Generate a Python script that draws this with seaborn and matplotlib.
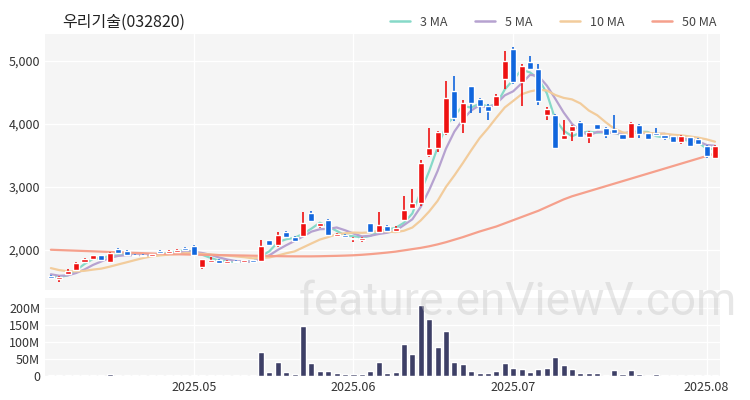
import numpy as np
import pandas as pd
import matplotlib
matplotlib.use("Agg")
import matplotlib.pyplot as plt
import seaborn as sns

sns.set_style("white")
plt.rcParams['font.family'] = ['Noto Sans CJK KR', 'DejaVu Sans']

title = "우리기술(032820)"
opens = [1580,1530,1620,1680,1810,1860,1910,1810,2010,1980,1920,1920,1900,1980,1945,1965,2030,2060,1720,1810,
         1840,1790,1820,1800,1830,1820,2150,2070,2290,2210,2220,2580,2370,2480,2220,2240,2170,2160,2420,2280,
         2380,2300,2478,2664,2740,3500,3620,3860,4525,4020,4600,4390,4290,4287,4712,5190,4660,4978,4880,4150,
         4150,3760,3880,4030,3800,3994,3940,3914,3834,3781,3978,3850,3861,3818,3808,3712,3797,3765,3648,3462]
closes = [1550,1560,1670,1790,1860,1910,1840,1950,1950,1920,1900,1900,1925,1950,1980,2000,1990,1920,1850,1840,
          1790,1820,1800,1830,1800,2060,2070,2230,2200,2140,2420,2450,2420,2230,2250,2200,2190,2190,2280,2390,
          2300,2350,2638,2744,3380,3622,3870,4420,4100,4340,4340,4290,4200,4446,5000,4660,4925,4872,4360,4230,
          3620,3830,3960,3800,3870,3914,3818,3861,3765,4020,3845,3755,3818,3781,3712,3808,3648,3675,3488,3648]
highs = [1600,1580,1690,1810,1870,1920,1920,1960,2020,1990,1930,1930,1935,1990,1990,2010,2040,2070,1860,1880,
         1850,1830,1830,1840,1840,2160,2160,2290,2300,2220,2600,2620,2430,2490,2270,2250,2200,2200,2430,2600,
         2400,2380,2850,2960,3420,3940,3890,4686,4766,4380,4610,4420,4310,4470,5165,5230,4950,5080,4960,4270,
         4160,4070,3980,4050,3880,4000,3950,4150,3840,4030,4000,3860,3940,3830,3815,3830,3800,3770,3660,3660]
lows = [1530,1480,1600,1660,1800,1850,1830,1800,1940,1910,1890,1890,1895,1940,1940,1960,1980,1910,1700,1800,
        1780,1780,1790,1790,1790,1810,2060,2050,2190,2130,2210,2440,2350,2220,2200,2180,2120,2130,2270,2270,
        2290,2290,2460,2640,2700,3480,3560,3820,4050,3860,4180,4180,4070,4270,4550,4640,4290,4850,4300,4070,
        3600,3750,3730,3780,3700,3900,3770,3850,3750,3770,3780,3740,3810,3740,3700,3680,3640,3660,3460,3435]
volume_m = [3,3,3,3,3,3,4,5,3,3,2,2,3,3,3,4,4,3,3,3,3,2,2,2,2,
            70,13,42,12,7,147,37,16,16,8,6,6,6,16,40,10,12,95,65,210,167,85,133,42,35,
            16,10,10,16,37,24,20,12,21,23,57,33,22,10,10,8,3,17,7,17,6,3,5,3,3,4,3,3,3,2]
prev_closes = [1900,1880,1850,1800,1780,1720,1680,1640,1600,1580]
ma50 = [2000,1995,1990,1985,1980,1975,1970,1965,1960,1955,
        1950,1945,1940,1935,1930,1928,1925,1922,1920,1918,
        1915,1912,1910,1908,1905,1903,1900,1898,1896,1895,
        1895,1895,1897,1900,1903,1907,1912,1920,1930,1942,
        1955,1970,1990,2010,2030,2055,2085,2120,2160,2200,
        2245,2290,2330,2370,2420,2470,2520,2570,2620,2680,
        2740,2800,2850,2890,2930,2970,3010,3050,3090,3130,
        3170,3210,3250,3290,3330,3370,3410,3450,3490,3530]
month_ticks = [17, 36, 55, 78]
month_labels = ["2025.05", "2025.06", "2025.07", "2025.08"]

n = len(closes)
idx = np.arange(n)
full = pd.Series(prev_closes + closes)
ma = {k: full.rolling(k, min_periods=1).mean().iloc[len(prev_closes):].to_numpy() for k in (3, 5, 10)}
ma[50] = np.array(ma50)
ma_colors = {3: "#86d9c8", 5: "#b6a2d0", 10: "#f2cc9c", 50: "#f5a08c"}

fig = plt.figure(figsize=(7.5, 4), dpi=100)
ax = fig.add_axes([0.06, 0.275, 0.9, 0.64])
axv = fig.add_axes([0.06, 0.06, 0.9, 0.195], sharex=ax)
for a in (ax, axv):
    a.set_facecolor("#f5f5f5")
    a.grid(True, color="white", linewidth=1)
    a.set_axisbelow(True)
    for s in a.spines.values():
        s.set_visible(False)
    a.tick_params(length=0, labelsize=9, colors="#333333")

df = pd.DataFrame({"i": np.tile(idx, 4), "v": np.concatenate([ma[k] for k in (3, 5, 10, 50)]),
                   "ma": np.repeat([f"{k} MA" for k in (3, 5, 10, 50)], n)})
sns.lineplot(data=df, x="i", y="v", hue="ma", palette=[ma_colors[k] for k in (3, 5, 10, 50)],
             ax=ax, linewidth=1.6, legend=False, zorder=2)

o = np.array(opens); c = np.array(closes)
up = c >= o
cols = np.where(up, "#ee1111", "#1166dd")
ax.vlines(idx, lows, highs, colors=cols, linewidth=1.2, zorder=3)
ax.bar(idx, np.maximum(np.abs(c - o), 12), bottom=np.minimum(o, c), width=0.72, color=cols, zorder=4)
ax.set_ylim(1360, 5430)
ax.set_yticks([2000, 3000, 4000, 5000])
ax.set_yticklabels(["2,000", "3,000", "4,000", "5,000"])
ax.set_xlim(-0.7, 79.6)
ax.tick_params(labelbottom=False)
ax.set_xlabel(""); ax.set_ylabel("")

vdf = pd.DataFrame({"i": idx, "vol": volume_m})
axv.bar(vdf["i"], vdf["vol"], width=0.72, color="#3d3f66")
axv.set_ylim(0, 230)
axv.set_yticks([0, 50, 100, 150, 200])
axv.set_yticklabels(["0", "50M", "100M", "150M", "200M"])
axv.set_xticks(month_ticks)
axv.set_xticklabels(month_labels)

fig.text(0.083, 0.945, title, fontsize=11.5, color="#222222", va="center")
from matplotlib.lines import Line2D
handles = [Line2D([], [], color=ma_colors[k], lw=1.8) for k in (3, 5, 10, 50)]
fig.legend(handles, [f"{k} MA" for k in (3, 5, 10, 50)], loc="center right", bbox_to_anchor=(0.97, 0.945),
           ncol=4, frameon=False, fontsize=9, handlelength=1.6, columnspacing=2.2, labelcolor="#444444")
fig.text(0.69, 0.245, "feature.enViewV.com", fontsize=33, color="#c4c4c4", alpha=0.4,
         ha="center", va="center", family=["Roboto", "DejaVu Sans"], zorder=10)
fig.savefig("out.png", dpi=100)
